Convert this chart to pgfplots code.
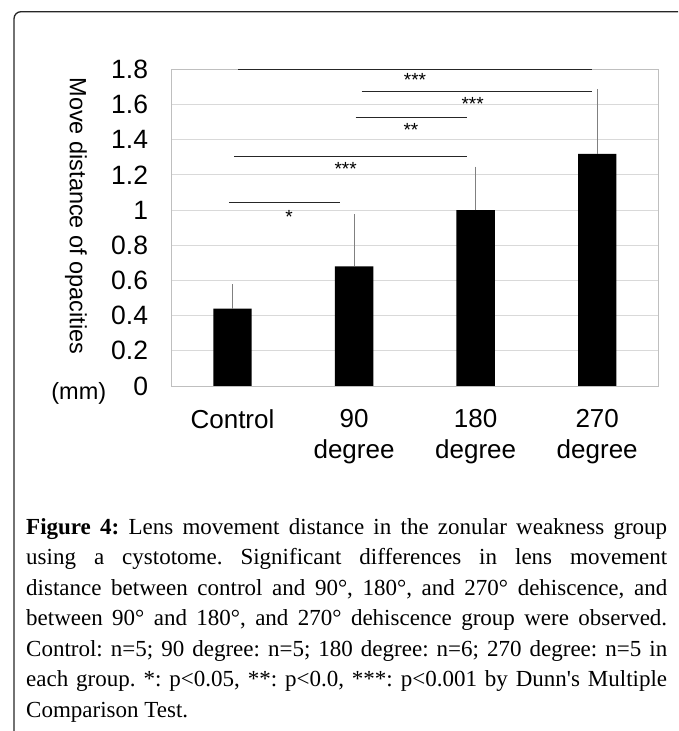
\documentclass[border=0pt]{standalone}
\usepackage{pgfplots}
\pgfplotsset{compat=1.18}
\usepackage{fontspec}
\setmainfont{Liberation Serif}
\newfontfamily\chartfont{Liberation Sans}
\definecolor{gridgray}{HTML}{D9D9D9}
\definecolor{framegray}{HTML}{BFBFBF}
\definecolor{errgray}{HTML}{808080}
\frenchspacing
\begin{document}
\begin{tikzpicture}
\path[use as bounding box] (0,0) rectangle (678pt,731pt);
\draw[line width=1.3pt, black!85, rounded corners=7pt] (14pt,0pt) -- (14pt,719.3pt) -- (678pt,719.3pt);
\begin{axis}[
  at={(171.7pt,345pt)}, anchor=south west,
  scale only axis, width=486.3pt, height=316.7pt,
  xmin=-0.5, xmax=3.5, ymin=0, ymax=1.8,
  ytick={0,0.2,0.4,0.6,0.8,1,1.2,1.4,1.6,1.8},
  yticklabels={0,0.2,0.4,0.6,0.8,1,1.2,1.4,1.6,1.8},
  xtick={0,1,2,3},
  xticklabels={Control,90\\degree,180\\degree,270\\degree},
  xticklabel style={align=center, font=\chartfont\fontsize{26}{31}\selectfont, inner sep=0pt, anchor=north, yshift=-23pt},
  yticklabel style={font=\chartfont\fontsize{26.5}{30}\selectfont, inner sep=0pt, anchor=east, xshift=-23.5pt},
  /pgf/number format/assume math mode=true,
  major tick length=0pt,
  ymajorgrids, grid style={draw=gridgray, line width=0.8pt},
  axis line style={draw=framegray, line width=0.8pt},
  bar width=38.4pt,
  clip=false,
]
\addplot[ybar, fill=black, draw=none,
  error bars/.cd, y dir=plus, y explicit,
  error bar style={color=errgray, line width=0.8pt},
  error mark options={errgray, mark size=3pt, line width=0.8pt}]
  coordinates {(0,0.44) +- (0,0.12) (1,0.68) +- (0,0.28) (2,1.00) +- (0,0.23) (3,1.32) +- (0,0.35)};
% significance brackets
\addplot[black!85, line width=1pt, no marks] coordinates {(0.048,1.80) (2.954,1.80)};
\addplot[black!85, line width=1pt, no marks] coordinates {(1.062,1.672) (2.954,1.672)};
\addplot[black!85, line width=1pt, no marks] coordinates {(1.013,1.524) (1.926,1.524)};
\addplot[black!85, line width=1pt, no marks] coordinates {(0.015,1.303) (1.926,1.303)};
\addplot[black!85, line width=1pt, no marks] coordinates {(-0.029,1.045) (0.884,1.045)};
\node[font=\chartfont\fontsize{19}{19}\selectfont, anchor=north, inner sep=0pt] at (axis cs:1.501,1.780) {***};
\node[font=\chartfont\fontsize{19}{19}\selectfont, anchor=north, inner sep=0pt] at (axis cs:1.975,1.644) {***};
\node[font=\chartfont\fontsize{19}{19}\selectfont, anchor=north, inner sep=0pt] at (axis cs:1.468,1.493) {**};
\node[font=\chartfont\fontsize{19}{19}\selectfont, anchor=north, inner sep=0pt] at (axis cs:0.931,1.269) {***};
\node[font=\chartfont\fontsize{19}{19}\selectfont, anchor=north, inner sep=0pt] at (axis cs:0.465,1.000) {*};
\end{axis}
\node[font=\chartfont\fontsize{23.5}{23.5}\selectfont, rotate=-90, inner sep=0pt] at (76pt,515pt) {Move distance of opacities};
\node[font=\chartfont\fontsize{23.5}{23.5}\selectfont, inner sep=0pt] at (78.8pt,338pt) {(mm)};
\node[anchor=north west, inner sep=0pt, text width=641pt, align=justify, font=\fontsize{23}{30.5}\selectfont] at (26pt,213pt) {\noindent\hyphenpenalty=10000
\textbf{Figure 4:} Lens movement distance in the zonular weakness group\linebreak
using a cystotome. Significant differences in lens movement\linebreak
distance between control and 90°, 180°, and 270° dehiscence, and\linebreak
between 90° and 180°, and 270° dehiscence group were observed.\linebreak
Control: n=5; 90 degree: n=5; 180 degree: n=6; 270 degree: n=5 in\linebreak
each group. *: p<0.05, **: p<0.0, ***: p<0.001 by Dunn\textquotesingle s Multiple\linebreak
Comparison Test.};
\end{tikzpicture}
\end{document}
